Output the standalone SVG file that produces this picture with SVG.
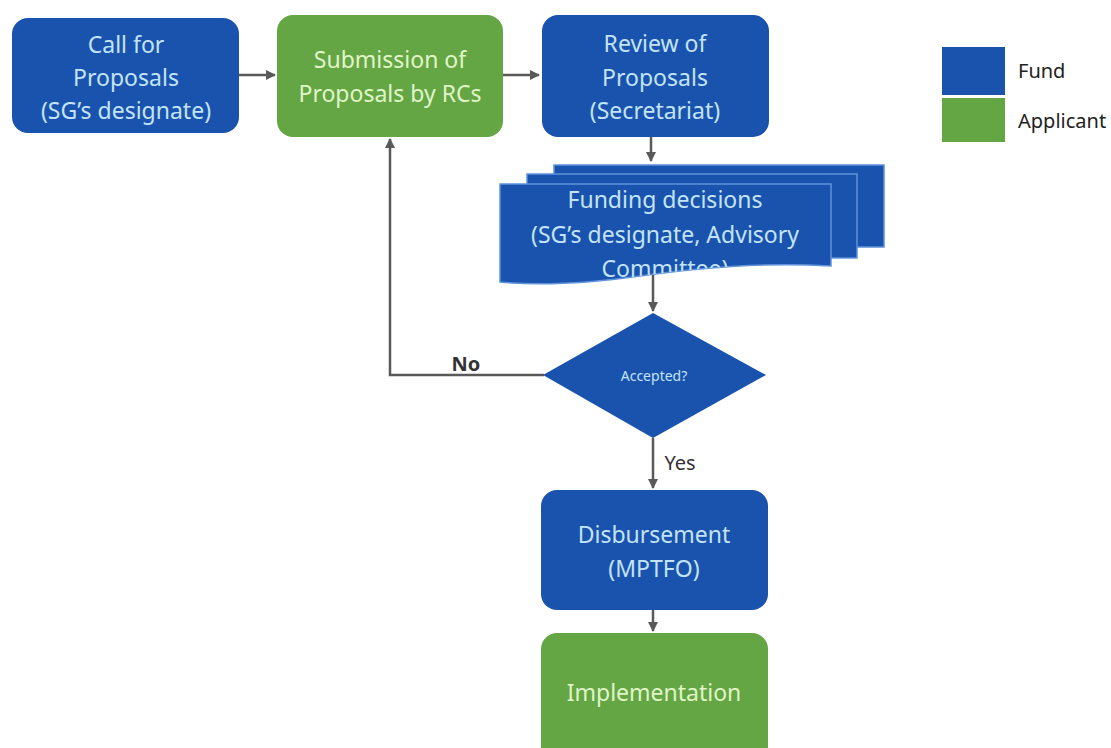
<svg xmlns="http://www.w3.org/2000/svg" width="1111" height="748" viewBox="0 0 1111 748">
<defs>
<style>
.fund{fill:#1a53ad;}
.app{fill:#64a544;}
.t{font-family:"Noto Sans","Open Sans",sans-serif;font-size:23px;text-anchor:middle;}
.tf{fill:#c3e4f8;}
.ta{fill:#e0f5c8;}
.lbl{font-family:"Noto Sans","Open Sans",sans-serif;font-size:20px;fill:#333;}
.con{fill:none;stroke:#595959;stroke-width:2.5;}
</style>
<marker id="ah" viewBox="0 0 10 10" refX="9" refY="5" markerWidth="4" markerHeight="4" orient="auto" markerUnits="strokeWidth">
<path d="M0,0 L10,5 L0,10 z" fill="#595959"/>
</marker>
<clipPath id="frontClip">
<path d="M500,184 L831,184 L831,266 C760,262 700,268 640,276 C590,283 540,286 500,282 Z"/>
</clipPath>
</defs>
<rect width="1111" height="748" fill="#ffffff"/>

<g id="connectors">
<path class="con" d="M239,75 L275,75" marker-end="url(#ah)"/>
<path class="con" d="M503,75 L539,75" marker-end="url(#ah)"/>
<path class="con" d="M651,137 L651,161" marker-end="url(#ah)"/>
<path class="con" d="M653,272 L653,311" marker-end="url(#ah)"/>
<path class="con" d="M544,375 L390,375 L390,139" marker-end="url(#ah)"/>
<path class="con" d="M653,438 L653,488" marker-end="url(#ah)"/>
<path class="con" d="M653,610 L653,631" marker-end="url(#ah)"/>
<text class="lbl" x="466" y="371" text-anchor="middle" font-weight="bold">No</text>
<text class="lbl" x="680" y="470" text-anchor="middle">Yes</text>
</g>

<g id="call">
<rect class="fund" x="12" y="18" width="227" height="115" rx="16"/>
<text class="t tf" x="126" y="53">Call for</text>
<text class="t tf" x="126" y="86">Proposals</text>
<text class="t tf" x="126" y="119">(SG’s designate)</text>
</g>

<g id="submission">
<rect class="app" x="277" y="15" width="226" height="122" rx="16"/>
<text class="t ta" x="390" y="68">Submission of</text>
<text class="t ta" x="390" y="102">Proposals by RCs</text>
</g>

<g id="review">
<rect class="fund" x="542" y="15" width="227" height="122" rx="16"/>
<text class="t tf" x="655" y="52">Review of</text>
<text class="t tf" x="655" y="86">Proposals</text>
<text class="t tf" x="655" y="119">(Secretariat)</text>
</g>

<g id="funding">
<rect class="fund" x="554" y="165" width="330" height="82" stroke="#5f93da" stroke-width="1.5"/>
<rect class="fund" x="527" y="174" width="330" height="84" stroke="#5f93da" stroke-width="1.5"/>
<path class="fund" d="M500,184 L831,184 L831,266 C760,262 700,268 640,276 C590,283 540,286 500,282 Z" stroke="#5f93da" stroke-width="1.5"/>
<g clip-path="url(#frontClip)">
<text class="t tf" x="665" y="208">Funding decisions</text>
<text class="t tf" x="665" y="243">(SG’s designate, Advisory</text>
<text class="t tf" x="665" y="277">Committee)</text>
</g>
</g>

<g id="accepted">
<path class="fund" d="M653,313 L766,375 L653,438 L543,375 Z"/>
<text x="654" y="381" font-family="Noto Sans, Open Sans, sans-serif" font-size="14" fill="#c3e4f8" text-anchor="middle">Accepted?</text>
</g>

<g id="disbursement">
<rect class="fund" x="541" y="490" width="227" height="120" rx="16"/>
<text class="t tf" x="654" y="543">Disbursement</text>
<text class="t tf" x="654" y="577">(MPTFO)</text>
</g>

<g id="implementation">
<rect class="app" x="541" y="633" width="227" height="130" rx="16"/>
<text class="t ta" x="654" y="701">Implementation</text>
</g>

<g id="legend">
<rect class="fund" x="942" y="47" width="63" height="48"/>
<rect class="app" x="942" y="98" width="63" height="44"/>
<text x="1018" y="78" font-family="Noto Sans, Open Sans, sans-serif" font-size="20" fill="#222">Fund</text>
<text x="1018" y="128" font-family="Noto Sans, Open Sans, sans-serif" font-size="20" fill="#222">Applicant</text>
</g>
</svg>
